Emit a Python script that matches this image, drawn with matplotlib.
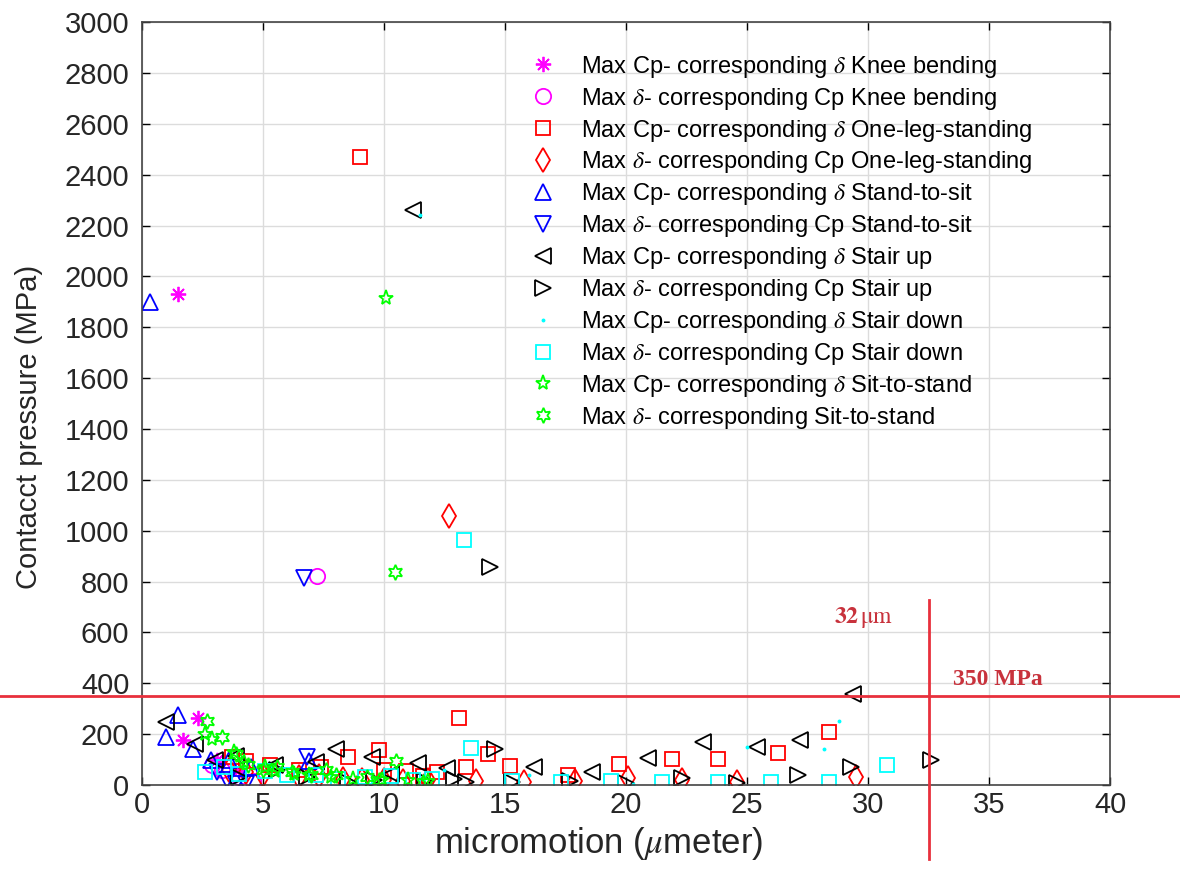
import numpy as np
import matplotlib.pyplot as plt

plt.rcParams['font.family'] = ['Liberation Sans', 'DejaVu Sans']
plt.rcParams['mathtext.fontset'] = 'stix'

# Knee bending
kb_cp_x = [1.5, 2.3, 1.7, 3.1, 4.0]
kb_cp_y = [1930, 263, 177, 98, 60]
kb_d_x = [7.25, 3.3, 4.0, 2.9, 4.6]
kb_d_y = [822, 60, 30, 80, 15]

# One-leg-standing
ol_cp_x = [9.0, 13.1, 9.8, 8.5, 13.4, 15.2, 17.6, 19.7, 21.9, 23.8, 26.3, 28.4, 14.3, 4.3,
           6.5, 10.0, 11.6, 3.7, 5.3, 7.4, 10.9, 12.2]
ol_cp_y = [2470, 263, 137, 110, 72, 74, 40, 82, 102, 102, 126, 210, 120, 95,
           60, 60, 35, 110, 80, 70, 55, 50]
ol_d_x = [12.7, 29.5, 24.6, 22.3, 20.1, 17.9, 15.8, 13.8, 11.8, 10.0, 8.3, 6.5, 5.0, 3.6,
          4.3, 7.3, 9.1, 10.8]
ol_d_y = [1058, 30, 12, 20, 28, 15, 10, 15, 20, 20, 25, 30, 40, 60,
          50, 35, 20, 15]

# Stand-to-sit
ss_cp_x = [0.35, 1.5, 1.0, 2.1, 2.85, 3.6, 6.9, 4.5]
ss_cp_y = [1900, 275, 190, 142, 98, 100, 95, 70]
ss_d_x = [6.7, 6.8, 3.1, 3.5, 3.9, 4.3]
ss_d_y = [814, 110, 52, 20, 5, 5]

# Stair up
su_cp_x = [11.2, 29.4, 1.0, 5.5, 8.0, 9.5, 11.4, 12.6, 16.2, 18.6, 20.9, 23.2, 25.4, 27.2,
           3.0, 2.2, 3.9, 7.2, 10.3]
su_cp_y = [2261, 358, 248, 80, 140, 110, 86, 67, 71, 51, 106, 170, 150, 177,
           100, 160, 115, 90, 45]
su_d_x = [14.4, 32.6, 29.3, 27.1, 24.6, 22.3, 20.0, 17.7, 15.3, 14.6, 13.4, 11.7, 8.5, 4.0,
          5.6, 6.8, 9.6, 12.9]
su_d_y = [857, 98, 71, 40, 8, 27, 8, 15, 10, 140, 10, 15, 10, 30,
          60, 30, 20, 25]

# Stair down
sd_cp_x = [11.5, 28.8, 28.2, 25.0, 20.3, 16.0, 12.5]
sd_cp_y = [2240, 250, 140, 150, 5, 40, 60]
sd_d_x = [13.3, 30.8, 28.4, 26.0, 23.8, 21.5, 19.4, 17.3, 15.3, 13.6, 12.0, 10.3, 8.1, 6.0,
          4.0, 2.6, 3.4, 5.1, 7.2, 9.2, 11.2]
sd_d_y = [963, 78, 12, 12, 10, 12, 15, 10, 15, 145, 25, 35, 25, 40,
          45, 50, 70, 55, 40, 30, 20]

# Sit-to-stand
st_cp_x = [10.1, 2.6, 3.8, 5.1, 6.3, 7.8, 9.9, 11.8, 2.9, 4.2, 5.5, 6.9, 8.7, 11.0]
st_cp_y = [1915, 200, 130, 70, 45, 30, 20, 15, 180, 90, 55, 40, 25, 20]
st_d_x = [10.45, 2.7, 3.9, 5.0, 6.2, 7.6, 9.3, 10.5, 11.6, 3.3, 4.4, 5.6, 7.0, 8.0, 9.8]
st_d_y = [838, 250, 120, 60, 50, 60, 30, 95, 10, 190, 80, 70, 40, 40, 20]

labels = [
    r'Max Cp- corresponding $\delta$ Knee bending',
    r'Max $\delta$- corresponding Cp Knee bending',
    r'Max Cp- corresponding $\delta$ One-leg-standing',
    r'Max $\delta$- corresponding Cp One-leg-standing',
    r'Max Cp- corresponding $\delta$ Stand-to-sit',
    r'Max $\delta$- corresponding Cp Stand-to-sit',
    r'Max Cp- corresponding $\delta$ Stair up',
    r'Max $\delta$- corresponding Cp Stair up',
    r'Max Cp- corresponding $\delta$ Stair down',
    r'Max $\delta$- corresponding Cp Stair down',
    r'Max Cp- corresponding $\delta$ Sit-to-stand',
    r'Max $\delta$- corresponding Sit-to-stand',
]

series = [
    (kb_cp_x, kb_cp_y, (8, 2, 0), '#ff00ff', 11),
    (kb_d_x, kb_d_y, 'o', '#ff00ff', 11),
    (ol_cp_x, ol_cp_y, 's', '#ff0000', 10),
    (ol_d_x, ol_d_y, 'd', '#ff0000', 12),
    (ss_cp_x, ss_cp_y, '^', '#0000ff', 11),
    (ss_d_x, ss_d_y, 'v', '#0000ff', 11),
    (su_cp_x, su_cp_y, '<', '#000000', 11),
    (su_d_x, su_d_y, '>', '#000000', 11),
    (sd_cp_x, sd_cp_y, '.', '#00ffff', 3),
    (sd_d_x, sd_d_y, 's', '#00ffff', 10),
    (st_cp_x, st_cp_y, '*', '#00ff00', 11),
    (st_d_x, st_d_y, (6, 1, 0), '#00ff00', 11),
]

fig = plt.figure(figsize=(11.8, 8.86), dpi=100)
ax = fig.add_axes([0.1203, 0.114, 0.8204, 0.861])

for (x, y, m, c, ms), lab in zip(series, labels):
    ax.plot(x, y, linestyle='none', marker=m, markersize=ms, markerfacecolor='none',
            markeredgecolor=c, markeredgewidth=1.3, label=lab)

# limit lines
red = '#e8303c'
ax.plot([-5.9, 43], [350, 350], color=red, lw=2, clip_on=False, zorder=5)
ax.plot([32.5, 32.5], [727, -290], color=red, lw=2, clip_on=False, zorder=5)
ax.text(28.6, 660, r'$\mathbf{32}\,\mathrm{\mu m}$', color='#c8323c', fontsize=17,
        family='Liberation Serif', va='center')
ax.text(33.5, 413, '350 MPa', color='#c8323c', fontsize=17, fontweight='bold',
        family='Liberation Serif', va='center')

ax.set_xlim(0, 40)
ax.set_ylim(0, 3000)
ax.set_xticks(np.arange(0, 41, 5))
ax.set_yticks(np.arange(0, 3001, 200))
ax.tick_params(direction='in', top=True, right=True, labelsize=21, length=6, width=1,
               labelcolor='#262626')
ax.tick_params(axis='y', pad=9)
ax.tick_params(axis='x', pad=4)
ax.grid(True, color='#dcdcdc', linewidth=1)
ax.set_axisbelow(True)
for s in ax.spines.values():
    s.set_color('#444444')
    s.set_linewidth(1.2)

ax.set_xlabel(r'micromotion ($\mu$meter)', fontsize=25, color='#262626')
ax.set_ylabel('Contacct pressure (MPa)', fontsize=21, color='#262626')
ax.xaxis.set_label_coords(0.472, -0.052)
ax.yaxis.set_label_coords(-0.102, 0.47)

ax.legend(loc='upper left', bbox_to_anchor=(0.39, 0.971), frameon=False, fontsize=17,
          handlelength=1.2, handletextpad=1.0, labelspacing=0.25, borderaxespad=0)

fig.savefig('out.png', dpi=100)
